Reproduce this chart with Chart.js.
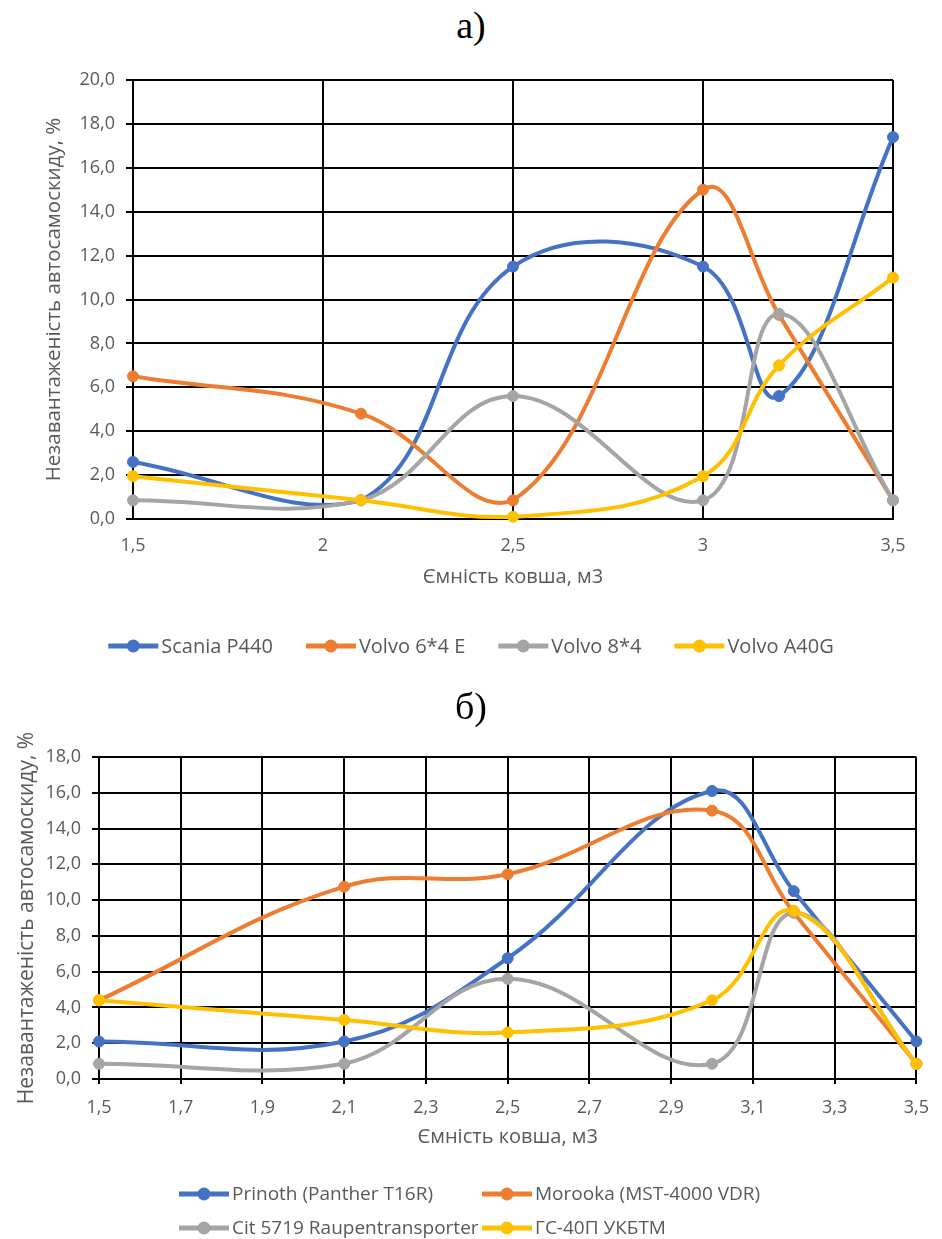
<!DOCTYPE html>
<html lang="uk">
<head>
<meta charset="utf-8">
<script src="https://cdn.jsdelivr.net/npm/chart.js@4.4.1/dist/chart.umd.min.js"></script>
<style>
  html, body { margin: 0; padding: 0; background: #fff; }
  #page { position: relative; width: 942px; height: 1239px; overflow: hidden; }
  canvas { position: absolute; left: 0; }
  .cap { position: absolute; left: 0; width: 942px; text-align: center;
         font-family: "Liberation Serif", "Times New Roman", serif; font-size: 38px;
         line-height: 44px; color: #000; }
</style>
</head>
<body>
<div id="page">
  <canvas id="chartA" width="942" height="630" style="top:50px"></canvas>
  <canvas id="chartB" width="942" height="559" style="top:680px"></canvas>
  <div class="cap" style="top:3px">а)</div>
  <div class="cap" style="top:684px">б)</div>
</div>
<script>
// Bucket capacity, m3 (shared by both panels)
const bucketCapacity = [1.5, 2.1, 2.5, 3.0, 3.2, 3.5];

// Panel а) — dump trucks
const scaniaP440 = [2.6, 0.85, 11.5, 11.5, 5.6, 17.4];
const volvo64E   = [6.5, 4.8, 0.85, 15.0, 9.3, 0.85];
const volvo84    = [0.85, 0.85, 5.6, 0.85, 9.35, 0.85];
const volvoA40G  = [1.95, 0.85, 0.1, 1.95, 7.0, 11.0];

// Panel б) — tracked carriers
const prinothT16R   = [2.1, 2.1, 6.75, 16.1, 10.5, 2.1];
const morookaMST    = [4.4, 10.75, 11.45, 15.0, 9.3, 0.85];
const cit5719       = [0.85, 0.85, 5.6, 0.85, 9.3, 0.85];
const gs40pUKBTM    = [4.4, 3.3, 2.6, 4.4, 9.4, 0.85];

// Axis ticks
const xTicksA = [1.5, 2, 2.5, 3, 3.5];
const xTicksB = [1.5, 1.7, 1.9, 2.1, 2.3, 2.5, 2.7, 2.9, 3.1, 3.3, 3.5];
const yMaxA = 20, yMaxB = 18, yStep = 2;

const COLORS = ['#4472C4', '#ED7D31', '#A5A5A5', '#FFC000'];
const FONT = '"Open Sans", Carlito, sans-serif';
const GREY = '#595959';
const Y_TITLE = 'Незавантаженість автосамоскиду, %';
const X_TITLE = 'Ємність ковша, м3';

const fmtX = v => String(Math.round(v * 10) / 10).replace('.', ',');
const fmtY = v => Number(v).toFixed(1).replace('.', ',');

function series(label, values, idx) {
  const c = COLORS[idx];
  return {
    label,
    data: bucketCapacity.map((x, i) => ({ x, y: values[i] })),
    borderColor: c, backgroundColor: c,
    pointBackgroundColor: c, pointBorderColor: c,
    borderWidth: 4, pointRadius: 5.5, pointBorderWidth: 1, pointHoverRadius: 5.5,
    tension: 0.4, clip: false,
    order: 3 - idx            // later series are painted on top
  };
}

// Legend: line sample with a round marker, then the series name.
// Rows are either centred as a whole or laid out in fixed columns.
const lineLegend = {
  id: 'lineLegend',
  afterDraw(chart, args, o) {
    const ctx = chart.ctx, ds = chart.data.datasets;
    ctx.save();
    ctx.font = o.font;
    ctx.textBaseline = 'middle';
    o.rows.forEach((row, r) => {
      const y = chart.chartArea.bottom + o.offset + r * o.rowGap;
      const widths = row.map(i => o.sample + o.textGap + ctx.measureText(ds[i].label).width);
      const total = widths.reduce((a, b) => a + b, 0) + o.itemGap * (row.length - 1);
      let x = o.columns ? o.columns[0] : chart.width / 2 - total / 2;
      row.forEach((i, k) => {
        if (o.columns) x = o.columns[k];
        const c = ds[i].borderColor;
        ctx.strokeStyle = c; ctx.fillStyle = c; ctx.lineWidth = 5; ctx.lineCap = 'butt';
        ctx.beginPath(); ctx.moveTo(x, y); ctx.lineTo(x + o.sample, y); ctx.stroke();
        ctx.beginPath(); ctx.arc(x + o.sample / 2, y, 6.5, 0, Math.PI * 2); ctx.fill();
        ctx.fillStyle = GREY;
        ctx.fillText(ds[i].label, x + o.sample + o.textGap, y + 1);
        x += widths[k] + o.itemGap;
      });
    });
    ctx.restore();
  }
};

function makeChart(id, sets, opt) {
  return new Chart(document.getElementById(id), {
    type: 'line',
    data: { datasets: sets },
    plugins: [lineLegend],
    options: {
      responsive: false, animation: false, devicePixelRatio: 1,
      events: [],
      layout: { padding: opt.padding },
      plugins: {
        legend: { display: false }, tooltip: { enabled: false }, title: { display: false },
        lineLegend: opt.legend
      },
      scales: {
        x: {
          type: 'linear', min: 1.5, max: 3.5,
          afterBuildTicks: s => { s.ticks = opt.xTicks.map(v => ({ value: v })); },
          afterFit: s => { s.height = opt.xHeight; },
          ticks: { callback: fmtX, color: GREY, font: { family: FONT, size: 18 },
                   padding: opt.xPad, maxRotation: 0, autoSkip: false },
          grid: { color: '#000', lineWidth: 2, drawTicks: opt.xTickLen > 0, tickLength: opt.xTickLen },
          border: { color: '#000', width: 2 },
          title: { display: true, text: X_TITLE, color: GREY,
                   font: { family: FONT, size: 20 }, padding: { top: 0, bottom: 0 } }
        },
        y: {
          min: 0, max: opt.yMax,
          afterFit: s => { s.width = opt.yWidth; },
          ticks: { stepSize: yStep, callback: fmtY, color: GREY,
                   font: { family: FONT, size: 18 }, padding: 11 },
          grid: { color: '#000', lineWidth: 2, drawTicks: true, tickLength: 7 },
          border: { color: '#000', width: 2 },
          title: { display: true, text: Y_TITLE, color: GREY,
                   font: { family: FONT, size: opt.yTitleSize }, padding: { top: opt.yTitlePad, bottom: 0 } }
        }
      }
    }
  });
}

makeChart('chartA', [
  series('Scania P440', scaniaP440, 0),
  series('Volvo 6*4 E', volvo64E, 1),
  series('Volvo 8*4', volvo84, 2),
  series('Volvo A40G', volvoA40G, 3)
], {
  padding: { left: 0, right: 49, top: 30, bottom: 91 },
  xTicks: xTicksA, xHeight: 70, xPad: 16, xTickLen: 0,
  yMax: yMaxA, yWidth: 133, yTitlePad: 42, yTitleSize: 20.5,
  legend: { rows: [[0, 1, 2, 3]], offset: 127, rowGap: 0,
            sample: 50, textGap: 3, itemGap: 33, font: '20px ' + FONT }
});

makeChart('chartB', [
  series('Prinoth (Panther T16R)', prinothT16R, 0),
  series('Morooka (MST-4000 VDR)', morookaMST, 1),
  series('Cit 5719 Raupentransporter', cit5719, 2),
  series('ГС-40П УКБТМ', gs40pUKBTM, 3)
], {
  padding: { left: 0, right: 17, top: 77, bottom: 90 },
  xTicks: xTicksB, xHeight: 70, xPad: 13, xTickLen: 5,
  yMax: yMaxB, yWidth: 99, yTitlePad: 14, yTitleSize: 21,
  legend: { rows: [[0, 1], [2, 3]], columns: [179, 482], offset: 115, rowGap: 34,
            sample: 50, textGap: 3, itemGap: 0, font: '19px ' + FONT }
});
</script>
</body>
</html>
